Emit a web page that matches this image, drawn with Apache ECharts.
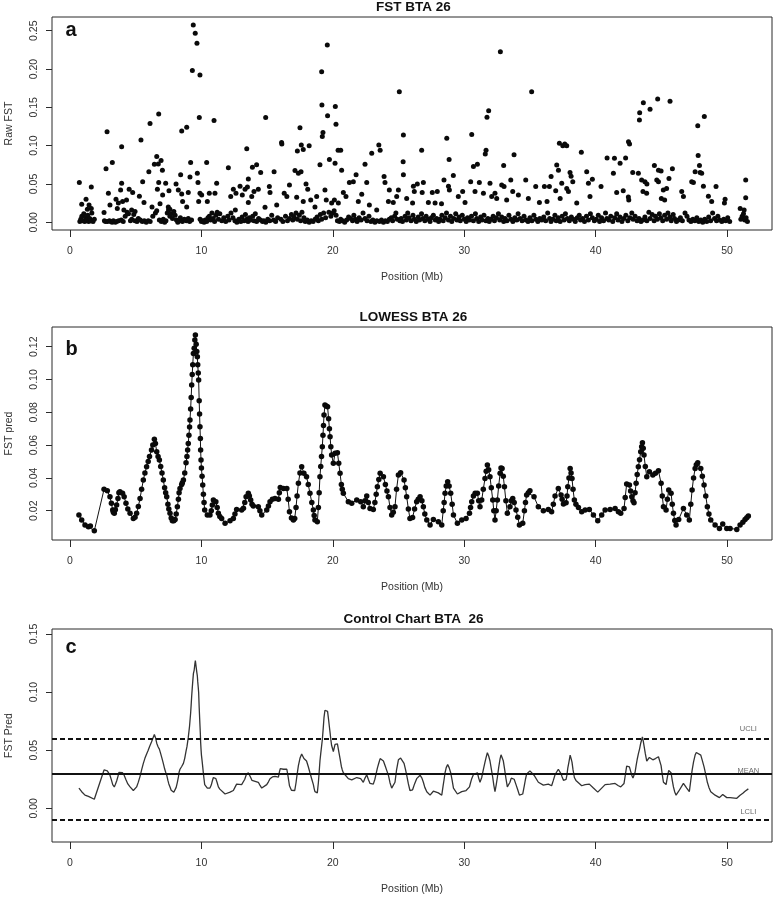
<!DOCTYPE html>
<html><head><meta charset="utf-8">
<script src="https://cdn.jsdelivr.net/npm/echarts@6/dist/echarts.min.js"></script>
<style>html,body{margin:0;padding:0;background:#fff}#c{width:778px;height:898px}</style>
</head><body><div id="c"></div>
<script>
// ---------- tick labels ----------
const xTicks = [0, 10, 20, 30, 40, 50];
const yTicksA = [0, 0.05, 0.10, 0.15, 0.20, 0.25];
const yTicksB = [0.02, 0.04, 0.06, 0.08, 0.10, 0.12];
const yTicksC = [0, 0.05, 0.10, 0.15];

// ---------- panel a: raw FST per SNP [position Mb, FST] ----------
const rawHigh = [
[9.38,0.2576],[9.53,0.2467],[9.66,0.2336],[9.31,0.198],[9.89,0.1923],[9.84,0.1366],[10.96,0.1327],[8.88,0.124],[8.5,0.119],
[6.75,0.1414],[6.09,0.129],[5.4,0.1074],[3.93,0.0987],[2.82,0.118],[14.89,0.1366],[13.45,0.096],[16.1,0.104],[16.12,0.102],
[17.5,0.1235],[17.3,0.093],[17.6,0.101],[17.75,0.095],[18.2,0.1],[19.15,0.1966],[19.58,0.2315],[19.17,0.153],[19.25,0.117],
[19.2,0.112],[19.6,0.139],[20.19,0.151],[20.24,0.128],[20.4,0.094],[20.6,0.094],[23.5,0.101],[23.6,0.094],[25.06,0.1705],
[25.37,0.114],[26.76,0.094],[28.67,0.1096],[30.57,0.1144],[31.73,0.137],[31.86,0.1457],[31.66,0.094],[31.6,0.089],[32.75,0.2227],
[33.79,0.088],[35.13,0.1705],[37.24,0.103],[37.5,0.1],[37.8,0.1],[37.65,0.102],[38.91,0.0914],[40.87,0.084],[41.43,0.0836],
[41.86,0.077],[42.28,0.084],[42.5,0.105],[42.58,0.102],[43.33,0.1335],[43.35,0.143],[43.63,0.156],[44.14,0.1475],[44.72,0.161],
[45.66,0.158],[47.77,0.126],[48.27,0.138],[47.8,0.087],[3.22,0.078],[2.74,0.07],[28.85,0.082],[25.35,0.079],[33.0,0.074],
[12.05,0.0713],[51.42,0.055]
];
const rawMid = [
[0.71,0.052],[0.89,0.0235],[1.22,0.03],[1.32,0.017],[1.45,0.0226],[1.62,0.046],[1.62,0.018],[2.59,0.0126],[2.92,0.038],[3.04,0.0226],
[3.5,0.03],[3.6,0.018],[3.68,0.025],[3.85,0.042],[3.93,0.051],[4.0,0.027],[4.1,0.016],[4.3,0.029],[4.5,0.043],[4.77,0.0387],
[4.69,0.016],[4.95,0.014],[5.28,0.034],[5.53,0.053],[5.63,0.0257],[6.0,0.066],[6.24,0.02],[6.42,0.0757],[6.6,0.0857],[6.65,0.043],
[6.72,0.076],[6.93,0.0805],[6.75,0.052],[6.85,0.024],[7.03,0.068],[7.05,0.0357],[7.28,0.051],[7.53,0.041],[7.48,0.02],[7.6,0.017],
[8.07,0.05],[8.24,0.042],[8.5,0.037],[8.42,0.062],[8.57,0.027],[8.88,0.02],[9.0,0.0387],[9.13,0.059],[9.18,0.078],[9.69,0.064],
[9.74,0.052],[9.79,0.027],[9.89,0.038],[10.02,0.0357],[10.4,0.078],[10.45,0.027],[10.6,0.038],[11.03,0.038],[11.16,0.051],
[12.23,0.0335],[12.43,0.043],[12.58,0.016],[12.63,0.038],[12.94,0.047],[13.11,0.0357],[13.32,0.043],[13.5,0.046],[13.57,0.0566],
[13.57,0.0257],[13.83,0.0335],[13.88,0.0718],[14.0,0.04],[14.2,0.075],[14.33,0.043],[14.51,0.065],[14.84,0.0196],[15.17,0.0466],
[15.22,0.0387],[15.53,0.066],[15.73,0.0226],[16.3,0.038],[16.5,0.0335],[16.7,0.0487],[17.12,0.0675],[17.25,0.0326],[17.38,0.064],
[17.58,0.066],[17.75,0.027],[17.96,0.05],[18.09,0.043],[18.32,0.029],[18.64,0.02],[18.77,0.0335],[19.02,0.075],[19.4,0.042],
[19.5,0.029],[19.74,0.082],[19.91,0.025],[20.17,0.077],[20.12,0.029],[20.42,0.025],[20.67,0.068],[20.8,0.0387],[21.0,0.0335],
[21.26,0.052],[21.56,0.053],[21.77,0.062],[21.94,0.027],[22.2,0.0366],[22.45,0.0757],[22.58,0.052],[22.78,0.0226],[22.96,0.09],
[23.34,0.016],[23.9,0.0596],[23.97,0.052],[24.3,0.042],[24.6,0.0257],[24.86,0.0335],[24.23,0.027],[24.99,0.042],[25.37,0.062],
[25.62,0.031],[26.13,0.047],[26.43,0.05],[26.89,0.052],[26.2,0.04],[26.8,0.039],[26.07,0.025],[27.27,0.0257],[27.57,0.039],
[27.95,0.04],[27.78,0.025],[28.27,0.024],[28.46,0.055],[28.8,0.047],[28.87,0.042],[29.17,0.061],[29.55,0.0335],[29.88,0.04],
[30.06,0.0257],[30.49,0.053],[30.7,0.0727],[31.0,0.0757],[30.82,0.04],[31.15,0.052],[31.46,0.038],[31.96,0.051],[32.09,0.0335],
[32.34,0.038],[32.47,0.031],[32.85,0.0487],[33.03,0.0466],[33.23,0.029],[33.54,0.055],[33.69,0.04],[34.12,0.0357],[34.68,0.055],
[34.88,0.031],[35.44,0.0466],[35.72,0.0257],[36.1,0.0466],[36.48,0.0466],[36.3,0.027],[36.61,0.0596],[36.96,0.041],[37.04,0.0748],
[37.17,0.068],[37.3,0.031],[37.42,0.051],[37.8,0.044],[37.93,0.04],[38.05,0.065],[38.13,0.06],[38.26,0.053],[38.56,0.025],
[39.32,0.066],[39.45,0.051],[39.57,0.0335],[39.75,0.056],[40.41,0.0466],[41.35,0.064],[41.6,0.039],[42.1,0.041],[42.49,0.033],
[42.52,0.029],[42.82,0.065],[43.25,0.064],[43.5,0.055],[43.75,0.053],[43.9,0.05],[43.6,0.04],[43.88,0.038],[44.47,0.074],
[44.78,0.068],[44.98,0.067],[44.65,0.055],[44.78,0.053],[45.15,0.042],[45.4,0.044],[45.58,0.057],[45.84,0.07],[45.0,0.031],
[45.25,0.029],[46.55,0.04],[46.68,0.0335],[47.31,0.053],[47.44,0.052],[47.57,0.066],[47.95,0.065],[47.9,0.074],[48.07,0.064],
[48.2,0.047],[48.58,0.034],[49.16,0.0466],[48.83,0.027],[49.85,0.03],[49.8,0.025],[51.0,0.018],[51.3,0.016],[51.42,0.032]
];
const rawLow = [
[0.75,0.001],[0.82,0.004],[0.9,0.008],[0.98,0.002],[1.05,0.011],[1.12,0.001],[1.2,0.006],[1.28,0.003],[1.35,0.009],[1.42,0.001],
[1.5,0.005],[1.58,0.002],[1.66,0.012],[1.75,0.001],[1.85,0.004],[2.62,0.002],[2.7,0.001],[2.85,0.001],[3.0,0.002],[3.1,0.001],
[3.2,0.0],[3.3,0.002],[3.45,0.0],[3.55,0.001],[3.7,0.002],[3.9,0.003],[4.05,0.001],[4.2,0.008],[4.35,0.013],[4.45,0.011],
[4.6,0.002],[4.7,0.004],[4.85,0.01],[4.95,0.002],[5.1,0.001],[5.2,0.005],[5.35,0.003],[5.5,0.001],[5.65,0.002],[5.8,0.0],
[5.95,0.002],[6.1,0.001],[6.3,0.008],[6.5,0.012],[6.6,0.015],[6.8,0.003],[6.95,0.001],[7.1,0.004],[7.2,0.0],[7.3,0.002],
[7.4,0.012],[7.5,0.016],[7.6,0.008],[7.7,0.011],[7.8,0.005],[7.9,0.014],[8.0,0.009],[8.1,0.003],[8.2,0.0],[8.3,0.002],
[8.4,0.006],[8.55,0.001],[8.7,0.004],[8.85,0.002],[9.0,0.005],[9.1,0.001],[9.25,0.003],[9.9,0.004],[10.0,0.001],[10.1,0.002],
[10.2,0.0],[10.3,0.003],[10.4,0.001],[10.5,0.006],[10.6,0.008],[10.7,0.003],[10.8,0.012],[10.9,0.005],[11.0,0.001],[11.1,0.009],
[11.2,0.013],[11.3,0.004],[11.4,0.011],[11.55,0.002],[11.7,0.006],[11.85,0.001],[12.0,0.008],[12.1,0.003],[12.25,0.012],[12.4,0.006],
[12.55,0.002],[12.7,0.0],[12.85,0.004],[13.0,0.001],[13.1,0.007],[13.25,0.002],[13.35,0.01],[13.45,0.004],[13.55,0.001],[13.65,0.006],
[13.75,0.003],[13.9,0.008],[14.0,0.002],[14.1,0.011],[14.2,0.001],[14.35,0.005],[14.5,0.003],[14.65,0.001],[14.75,0.002],[14.9,0.0],
[15.05,0.004],[15.2,0.002],[15.35,0.009],[15.5,0.003],[15.65,0.001],[15.8,0.006],[16.05,0.004],[16.2,0.001],[16.4,0.008],[16.55,0.002],
[16.7,0.005],[16.85,0.01],[16.95,0.003],[17.05,0.007],[17.2,0.012],[17.3,0.004],[17.45,0.009],[17.55,0.002],[17.65,0.013],[17.8,0.006],
[17.9,0.001],[18.05,0.003],[18.2,0.0],[18.35,0.002],[18.5,0.001],[18.65,0.004],[18.8,0.007],[18.9,0.002],[19.05,0.01],[19.15,0.004],
[19.3,0.012],[19.45,0.006],[19.7,0.013],[19.85,0.008],[20.0,0.012],[20.1,0.015],[20.25,0.009],[20.35,0.002],[20.5,0.001],[20.6,0.004],
[20.75,0.002],[20.9,0.0],[21.05,0.003],[21.2,0.007],[21.35,0.005],[21.5,0.002],[21.6,0.009],[21.7,0.004],[21.85,0.001],[22.0,0.006],
[22.15,0.003],[22.3,0.012],[22.45,0.005],[22.6,0.002],[22.75,0.008],[22.9,0.001],[23.05,0.003],[23.2,0.0],[23.35,0.002],[23.55,0.001],
[23.7,0.003],[23.85,0.0],[24.0,0.002],[24.15,0.001],[24.3,0.004],[24.45,0.006],[24.55,0.002],[24.7,0.008],[24.8,0.012],[24.9,0.004],
[25.1,0.002],[25.2,0.005],[25.3,0.001],[25.5,0.008],[25.6,0.003],[25.7,0.012],[25.8,0.006],[25.95,0.002],[26.1,0.009],[26.2,0.004],
[26.35,0.001],[26.5,0.007],[26.6,0.003],[26.75,0.011],[26.85,0.005],[27.0,0.002],[27.1,0.008],[27.25,0.004],[27.4,0.001],[27.5,0.006],
[27.65,0.009],[27.8,0.003],[27.9,0.005],[28.05,0.001],[28.15,0.004],[28.3,0.009],[28.4,0.002],[28.55,0.006],[28.65,0.012],[28.8,0.003],
[28.95,0.008],[29.05,0.001],[29.2,0.005],[29.35,0.011],[29.45,0.003],[29.6,0.007],[29.7,0.002],[29.85,0.009],[30.0,0.004],[30.15,0.001],
[30.25,0.006],[30.4,0.003],[30.55,0.008],[30.7,0.002],[30.85,0.011],[30.95,0.005],[31.1,0.001],[31.25,0.007],[31.35,0.003],[31.5,0.009],
[31.65,0.002],[31.8,0.005],[31.9,0.001],[32.05,0.004],[32.2,0.008],[32.3,0.002],[32.45,0.006],[32.6,0.011],[32.7,0.003],[32.85,0.007],
[33.0,0.001],[33.1,0.005],[33.25,0.002],[33.4,0.009],[33.55,0.004],[33.7,0.001],[33.85,0.006],[34.0,0.003],[34.1,0.011],[34.25,0.005],
[34.4,0.002],[34.55,0.008],[34.7,0.003],[34.85,0.001],[35.0,0.006],[35.15,0.002],[35.3,0.009],[35.45,0.004],[35.6,0.001],[35.75,0.005],
[35.9,0.003],[36.05,0.007],[36.2,0.002],[36.35,0.012],[36.5,0.005],[36.6,0.001],[36.75,0.004],[36.9,0.009],[37.0,0.002],[37.15,0.006],
[37.3,0.001],[37.45,0.008],[37.6,0.003],[37.7,0.011],[37.85,0.005],[38.0,0.002],[38.15,0.007],[38.3,0.004],[38.45,0.001],[38.6,0.006],
[38.75,0.009],[38.85,0.003],[39.0,0.005],[39.15,0.001],[39.3,0.008],[39.45,0.003],[39.6,0.011],[39.75,0.006],[39.9,0.002],[40.05,0.004],
[40.2,0.009],[40.3,0.001],[40.45,0.006],[40.6,0.002],[40.75,0.012],[40.85,0.005],[41.0,0.003],[41.15,0.008],[41.3,0.001],[41.45,0.006],
[41.6,0.011],[41.7,0.003],[41.85,0.007],[42.0,0.001],[42.15,0.005],[42.3,0.009],[42.45,0.002],[42.6,0.006],[42.75,0.012],[42.85,0.004],
[43.0,0.008],[43.15,0.002],[43.3,0.005],[43.45,0.001],[43.6,0.003],[43.75,0.007],[43.9,0.002],[44.05,0.013],[44.15,0.005],[44.3,0.01],
[44.45,0.002],[44.55,0.008],[44.7,0.004],[44.85,0.011],[44.95,0.006],[45.1,0.002],[45.25,0.009],[45.4,0.004],[45.5,0.012],[45.65,0.007],
[45.75,0.002],[45.9,0.01],[46.0,0.005],[46.15,0.001],[46.3,0.003],[46.45,0.006],[46.6,0.002],[46.8,0.012],[46.95,0.008],[47.1,0.003],
[47.25,0.001],[47.4,0.004],[47.55,0.002],[47.7,0.006],[47.85,0.001],[48.0,0.003],[48.15,0.0],[48.3,0.004],[48.45,0.001],[48.6,0.007],
[48.75,0.002],[48.9,0.012],[49.05,0.005],[49.2,0.002],[49.3,0.008],[49.45,0.003],[49.6,0.001],[49.75,0.004],[49.9,0.002],[50.05,0.006],
[50.2,0.001],[51.05,0.004],[51.15,0.008],[51.25,0.011],[51.35,0.003],[51.45,0.006],[51.55,0.001]
];

// ---------- panels b & c: LOWESS-smoothed FST [position Mb, predicted FST] ----------
const lowessFit = [
[0.68,0.0174],[0.89,0.0143],[1.14,0.0113],[1.4,0.0102],[1.55,0.0106],[1.85,0.0078],
[2.59,0.033],[2.84,0.0322],[3.04,0.0285],[3.15,0.0245],[3.25,0.0204],[3.3,0.019],[3.37,0.0184],[3.45,0.0205],[3.55,0.0235],[3.65,0.0275],
[3.72,0.031],[3.8,0.0316],[4.0,0.0306],[4.12,0.0285],[4.26,0.0245],[4.4,0.021],[4.57,0.0184],[4.82,0.0153],[4.95,0.016],[5.07,0.0184],
[5.2,0.0225],[5.33,0.0275],[5.45,0.033],[5.58,0.0387],[5.7,0.043],[5.83,0.0468],[5.95,0.05],[6.05,0.053],[6.2,0.057],[6.3,0.06],
[6.42,0.0635],[6.5,0.061],[6.6,0.056],[6.7,0.053],[6.8,0.0509],[6.9,0.047],[7.0,0.043],[7.1,0.0387],[7.2,0.034],[7.28,0.031],
[7.36,0.0285],[7.45,0.024],[7.52,0.021],[7.61,0.0184],[7.7,0.0155],[7.79,0.0139],[7.9,0.0138],[8.0,0.0147],[8.08,0.018],[8.17,0.0224],
[8.25,0.027],[8.3,0.031],[8.37,0.0336],[8.5,0.036],[8.55,0.037],[8.63,0.0387],[8.73,0.043],[8.83,0.0493],[8.9,0.053],[8.95,0.057],
[9.0,0.061],[9.05,0.066],[9.1,0.071],[9.13,0.0753],[9.18,0.082],[9.22,0.089],[9.26,0.0966],[9.3,0.103],[9.34,0.109],[9.39,0.1159],
[9.45,0.119],[9.5,0.124],[9.54,0.1271],[9.6,0.1215],[9.65,0.117],[9.69,0.1139],[9.72,0.109],[9.76,0.104],[9.79,0.0997],[9.83,0.087],
[9.86,0.079],[9.89,0.0712],[9.92,0.064],[9.94,0.057],[9.97,0.0509],[10.0,0.046],[10.05,0.041],[10.1,0.0357],[10.15,0.03],[10.2,0.025],
[10.25,0.0204],[10.45,0.0174],[10.65,0.0174],[10.75,0.02],[10.83,0.0235],[10.91,0.0265],[11.1,0.0255],[11.2,0.022],[11.29,0.0184],[11.4,0.0165],
[11.54,0.0153],[11.8,0.0123],[12.18,0.0139],[12.43,0.0153],[12.55,0.018],[12.68,0.0208],[13.06,0.0204],[13.2,0.0215],[13.3,0.025],[13.4,0.0285],
[13.57,0.0306],[13.65,0.029],[13.75,0.0265],[13.85,0.024],[13.95,0.0228],[14.33,0.0224],[14.45,0.02],[14.59,0.0174],[14.97,0.0204],[15.1,0.0228],
[15.22,0.0255],[15.4,0.027],[15.6,0.0275],[15.86,0.0269],[15.93,0.031],[16.0,0.0342],[16.24,0.0336],[16.5,0.0336],[16.6,0.027],[16.7,0.0194],
[16.85,0.0155],[17.0,0.0143],[17.1,0.0153],[17.2,0.022],[17.28,0.029],[17.38,0.0367],[17.5,0.043],[17.63,0.0468],[17.8,0.0428],[18.0,0.0407],
[18.13,0.036],[18.26,0.0306],[18.4,0.025],[18.52,0.0204],[18.58,0.017],[18.64,0.0143],[18.82,0.0133],[18.9,0.022],[18.96,0.031],[19.02,0.0407],
[19.08,0.047],[19.14,0.053],[19.2,0.059],[19.25,0.066],[19.29,0.072],[19.33,0.0783],[19.4,0.0844],[19.5,0.0838],[19.6,0.0834],[19.68,0.076],
[19.74,0.07],[19.79,0.0651],[19.85,0.059],[19.91,0.054],[20.04,0.0489],[20.17,0.055],[20.35,0.0554],[20.45,0.049],[20.55,0.0428],[20.65,0.036],
[20.72,0.033],[20.8,0.0306],[21.18,0.0255],[21.44,0.0245],[21.82,0.0265],[22.12,0.0255],[22.32,0.0224],[22.45,0.026],[22.58,0.0289],[22.7,0.025],
[22.83,0.0214],[23.08,0.0208],[23.2,0.025],[23.3,0.03],[23.39,0.0346],[23.5,0.039],[23.6,0.0428],[23.85,0.0407],[24.0,0.036],[24.12,0.032],
[24.23,0.0285],[24.35,0.022],[24.48,0.0174],[24.6,0.019],[24.73,0.0224],[24.85,0.033],[24.99,0.0417],[25.16,0.0432],[25.42,0.0387],[25.52,0.034],
[25.62,0.0285],[25.75,0.021],[25.87,0.0153],[26.07,0.0159],[26.22,0.021],[26.38,0.0255],[26.5,0.027],[26.64,0.0285],[26.78,0.026],[26.89,0.0224],
[27.0,0.018],[27.15,0.0143],[27.4,0.0113],[27.65,0.0147],[28.03,0.0133],[28.29,0.0113],[28.4,0.02],[28.47,0.025],[28.54,0.0306],[28.63,0.035],
[28.74,0.0377],[28.85,0.035],[28.97,0.0306],[29.08,0.024],[29.18,0.0174],[29.48,0.0123],[29.81,0.0143],[30.14,0.0153],[30.4,0.0184],[30.48,0.022],
[30.57,0.0255],[30.7,0.029],[30.83,0.0306],[31.0,0.0306],[31.1,0.026],[31.2,0.0224],[31.33,0.0265],[31.45,0.033],[31.58,0.0397],[31.67,0.044],
[31.76,0.0478],[31.86,0.045],[31.96,0.0407],[32.06,0.034],[32.17,0.0265],[32.25,0.02],[32.34,0.0143],[32.43,0.02],[32.52,0.0265],[32.62,0.035],
[32.73,0.0428],[32.8,0.046],[32.88,0.0458],[32.97,0.041],[33.06,0.0346],[33.17,0.026],[33.28,0.0184],[33.48,0.0224],[33.58,0.026],[33.69,0.0275],
[33.8,0.025],[33.94,0.0204],[34.07,0.016],[34.2,0.0113],[34.45,0.0123],[34.58,0.02],[34.66,0.025],[34.75,0.0296],[34.88,0.031],[35.0,0.0322],
[35.31,0.0285],[35.64,0.0224],[36.02,0.02],[36.4,0.0208],[36.65,0.0194],[36.78,0.024],[36.91,0.0289],[37.16,0.0336],[37.37,0.0296],[37.45,0.027],
[37.55,0.0241],[37.75,0.0249],[37.82,0.029],[37.88,0.0346],[37.97,0.04],[38.06,0.0458],[38.13,0.043],[38.2,0.0397],[38.28,0.033],[38.38,0.0265],
[38.5,0.024],[38.69,0.022],[38.94,0.0194],[39.2,0.0204],[39.52,0.0208],[39.83,0.0174],[40.16,0.0139],[40.46,0.0174],[40.72,0.0204],[41.1,0.0208],
[41.48,0.0214],[41.73,0.0194],[41.91,0.0184],[42.16,0.0214],[42.25,0.028],[42.36,0.0363],[42.57,0.0356],[42.66,0.032],[42.75,0.0285],[42.84,0.026],
[42.92,0.0249],[43.0,0.031],[43.08,0.0367],[43.16,0.042],[43.25,0.0468],[43.34,0.051],[43.43,0.056],[43.5,0.059],[43.56,0.0615],[43.62,0.058],
[43.68,0.0539],[43.78,0.047],[43.89,0.0407],[44.09,0.0438],[44.35,0.0417],[44.55,0.0428],[44.78,0.0444],[44.98,0.0367],[45.07,0.029],[45.16,0.0224],
[45.36,0.0204],[45.46,0.027],[45.56,0.0326],[45.74,0.0306],[45.83,0.024],[45.92,0.0184],[46.02,0.014],[46.12,0.0113],[46.32,0.0147],[46.68,0.0214],
[46.93,0.0174],[47.13,0.0143],[47.24,0.024],[47.34,0.0326],[47.45,0.04],[47.57,0.0458],[47.66,0.048],[47.77,0.0493],[48.0,0.0458],[48.12,0.041],
[48.25,0.0356],[48.38,0.029],[48.5,0.0224],[48.62,0.018],[48.76,0.0143],[49.09,0.0113],[49.42,0.0092],[49.67,0.0119],[49.98,0.0092],[50.23,0.0092],
[50.74,0.0086],[50.99,0.0113],[51.2,0.013],[51.37,0.0147],[51.5,0.0157],[51.62,0.0167]
];

// ---------- panel c: control limits ----------
const controlMean = 0.0281;
const controlUCL = 0.0638;
const controlLCL = -0.0076;
const limitNames = ['UCLI', 'MEAN', 'LCLI'];

// ---------- layout ----------
const FONT = '"Liberation Sans", Arial, Helvetica, sans-serif';
const TXT = '#333';
const panels = [
  { top: 17,  yMin: -0.0101, yMax: 0.2679, ticks: yTicksA, yName: 'Raw FST',  title: 'FST BTA 26',            letter: 'a' },
  { top: 327, yMin: 0.00213, yMax: 0.1320, ticks: yTicksB, yName: 'FST pred', title: 'LOWESS BTA 26',         letter: 'b' },
  { top: 629, yMin: -0.029,  yMax: 0.1543, ticks: yTicksC, yName: 'FST Pred', title: 'Control Chart BTA  26', letter: 'c' }
];
const GL = 52, GW = 720, GH = 213;
const X_MIN = -1.37, X_MAX = 53.42;

const chart = echarts.init(document.getElementById('c'), null, { renderer: 'canvas' });

const grid = panels.map(p => ({ left: GL, top: p.top, width: GW, height: GH, show: true,
  containLabel: false, outerBoundsMode: 'none',
  borderColor: '#2b2b2b', borderWidth: 1, backgroundColor: 'transparent' }));

const xAxis = panels.map((p, i) => ({
  type: 'value', gridIndex: i, min: X_MIN, max: X_MAX, position: 'bottom',
  name: 'Position (Mb)', nameLocation: 'middle', nameGap: 42,
  nameTextStyle: { fontFamily: FONT, fontSize: 10.5, color: TXT },
  axisLine: { show: false, onZero: false },
  axisTick: { show: true, inside: false, length: 7, customValues: xTicks, lineStyle: { color: '#2b2b2b', width: 1 } },
  axisLabel: { show: true, customValues: xTicks, margin: 16, fontFamily: FONT, fontSize: 10.5, color: TXT, formatter: v => String(v) },
  splitLine: { show: false }
}));

const yAxis = panels.map((p, i) => ({
  type: 'value', gridIndex: i, min: p.yMin, max: p.yMax, position: 'left',
  name: p.yName, nameLocation: 'middle', nameRotate: 90, nameGap: 37,
  nameTextStyle: { fontFamily: FONT, fontSize: 10.5, color: TXT },
  axisLine: { show: false, onZero: false },
  axisTick: { show: true, inside: false, length: 6, customValues: p.ticks, lineStyle: { color: '#2b2b2b', width: 1 } },
  axisLabel: { show: true, customValues: p.ticks, rotate: 90, margin: 12, fontFamily: FONT, fontSize: 10.5, color: TXT, formatter: v => v.toFixed(2) },
  splitLine: { show: false }
}));

const dotStyle = { color: '#0a0a0a', opacity: 1 };
const lastX = lowessFit[lowessFit.length - 1][0];
const limitValues = [controlUCL, controlMean, controlLCL];

const series = [
  { type: 'scatter', xAxisIndex: 0, yAxisIndex: 0, data: rawLow, symbolSize: 5, itemStyle: dotStyle, silent: true },
  { type: 'scatter', xAxisIndex: 0, yAxisIndex: 0, data: rawMid, symbolSize: 5, itemStyle: dotStyle, silent: true },
  { type: 'scatter', xAxisIndex: 0, yAxisIndex: 0, data: rawHigh, symbolSize: 5, itemStyle: dotStyle, silent: true },
  { type: 'line', xAxisIndex: 1, yAxisIndex: 1, data: lowessFit, symbol: 'circle', symbolSize: 5.5, showSymbol: true,
    itemStyle: { color: '#0a0a0a', opacity: 1 }, lineStyle: { color: '#111', width: 1 }, silent: true },
  { type: 'line', xAxisIndex: 2, yAxisIndex: 2, data: lowessFit, symbol: 'none', showSymbol: false,
    lineStyle: { color: '#333', width: 1.3 }, silent: true,
    markLine: { silent: true, symbol: ['none', 'none'], label: { show: false },
      data: [
        { yAxis: controlUCL, lineStyle: { type: [5, 3], width: 2, color: '#111' } },
        { yAxis: controlMean, lineStyle: { type: 'solid', width: 2, color: '#111' } },
        { yAxis: controlLCL, lineStyle: { type: [5, 3], width: 2, color: '#111' } }
      ] } },
  { type: 'scatter', xAxisIndex: 2, yAxisIndex: 2, symbolSize: 0, silent: true,
    data: limitNames.map((n, k) => [lastX, limitValues[k], n]),
    label: { show: true, position: 'top', distance: 1, formatter: p => p.value[2],
      fontFamily: FONT, fontSize: 7.5, color: '#444' } }
];

const graphic = [];
panels.forEach((p, i) => {
  const titleY = [7.3, 317.7, 619.3][i];
  graphic.push({ type: 'text', x: GL + GW / 2 + 1.5, y: titleY, silent: true,
    style: { text: p.title, fontFamily: FONT, fontSize: 13.5, fontWeight: 'bold', fill: '#111', align: 'center', verticalAlign: 'middle' } });
  const letterY = [30, 349, 647][i];
  graphic.push({ type: 'text', x: 65.5, y: letterY, silent: true,
    style: { text: p.letter, fontFamily: FONT, fontSize: 20, fontWeight: 'bold', fill: '#111', align: 'left', verticalAlign: 'middle' } });
});

chart.setOption({ animation: false, backgroundColor: '#fff', grid, xAxis, yAxis, series, graphic });
</script>
</body></html>
